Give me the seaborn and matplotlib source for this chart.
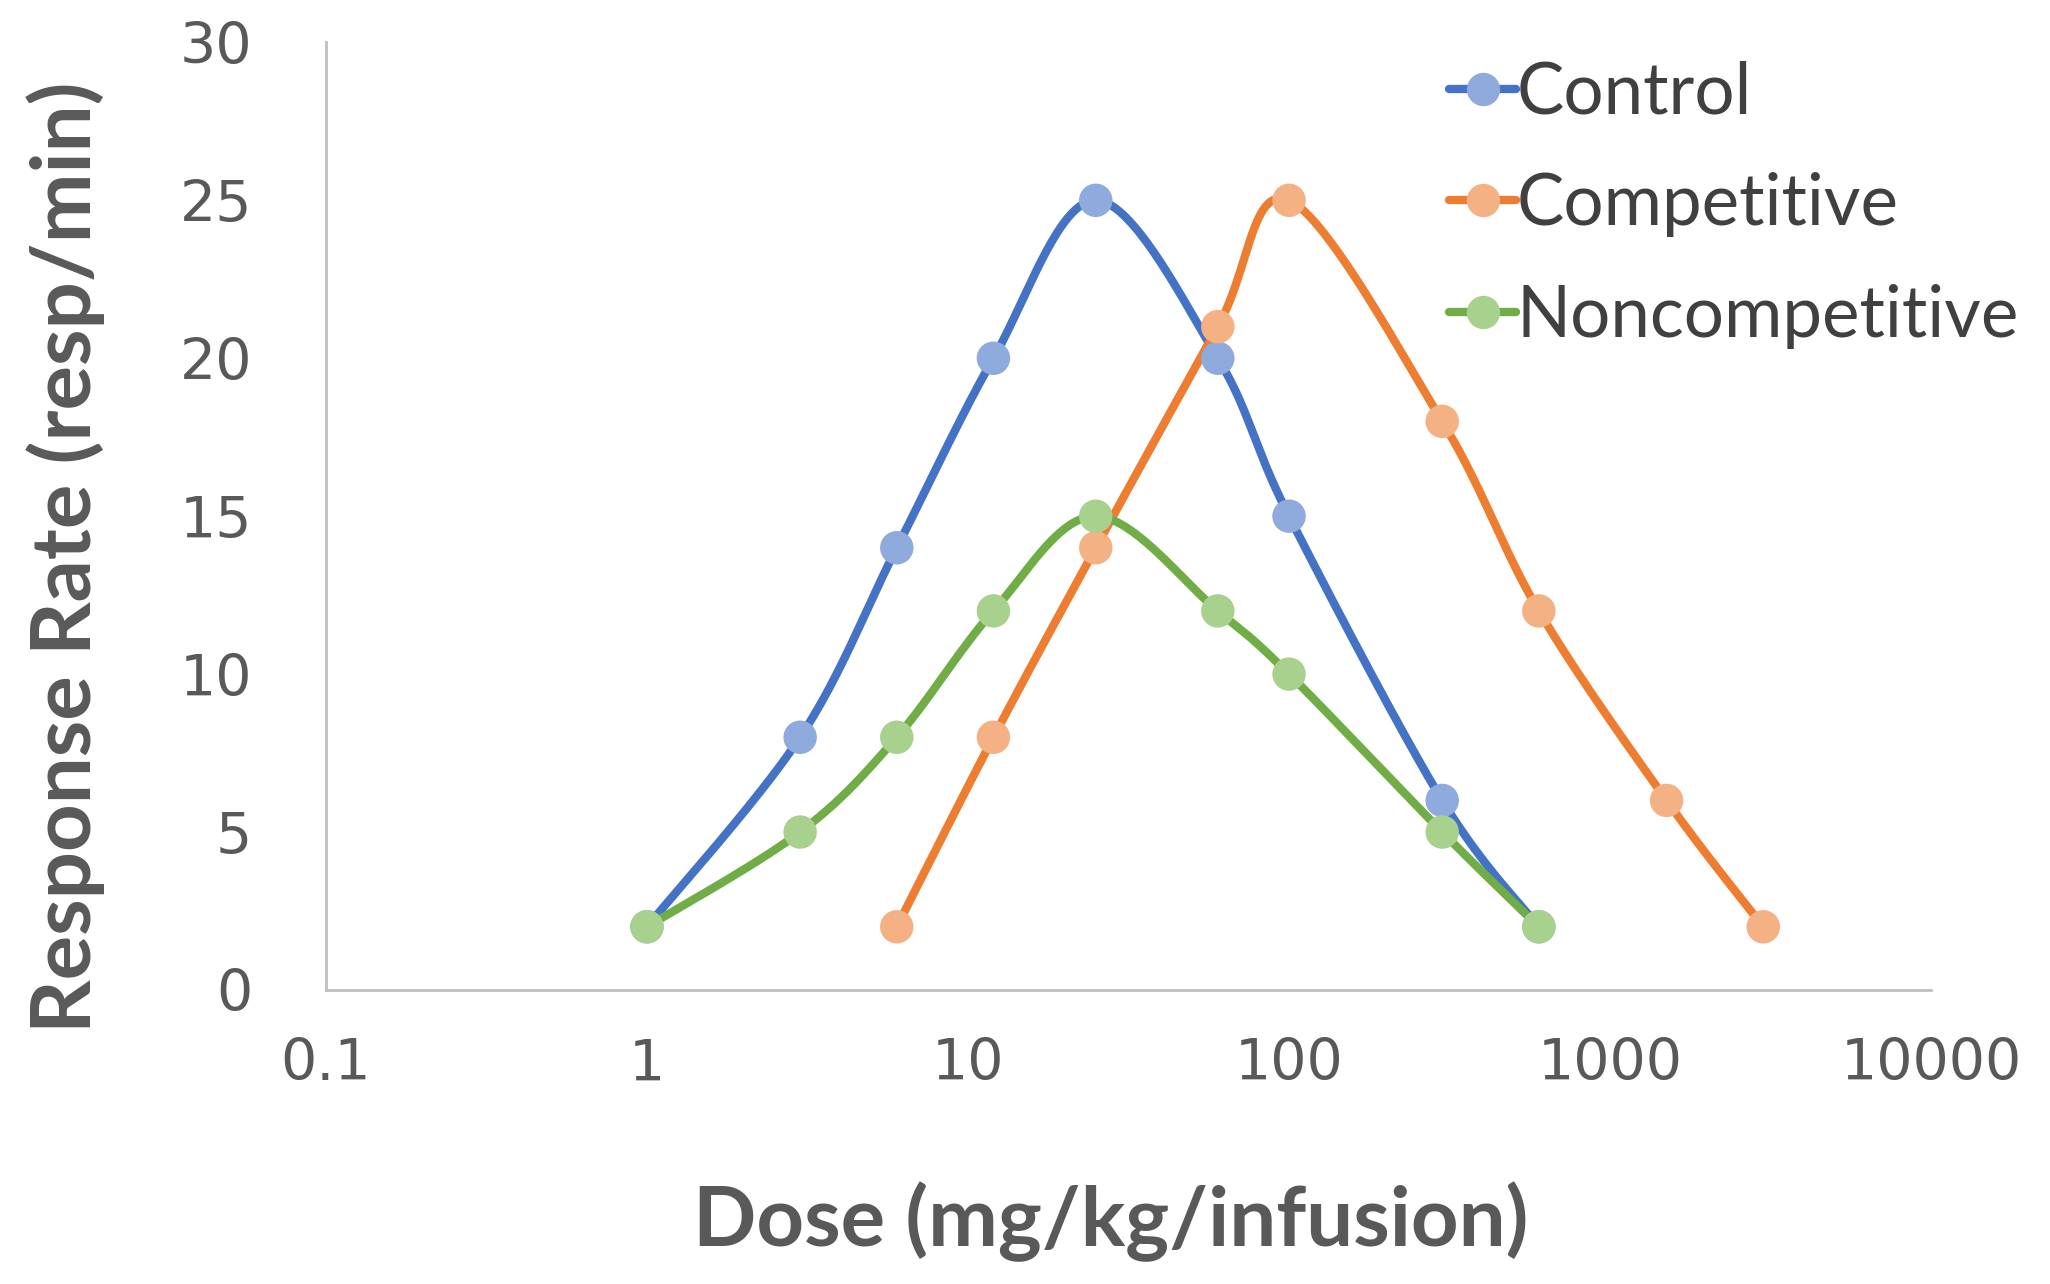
import numpy as np
import pandas as pd
import matplotlib
matplotlib.use("Agg")
import matplotlib.pyplot as plt
from matplotlib.lines import Line2D
from matplotlib.ticker import LogLocator, MultipleLocator, FuncFormatter
import seaborn as sns

# Data
control_dose = [1, 3, 6, 12, 25, 60, 100, 300, 600]
control_rate = [2, 8, 14, 20, 25, 20, 15, 6, 2]

competitive_dose = [6, 12, 25, 60, 100, 300, 600, 1500, 3000]
competitive_rate = [2, 8, 14, 21, 25, 18, 12, 6, 2]

noncompetitive_dose = [1, 3, 6, 12, 25, 60, 100, 300, 600]
noncompetitive_rate = [2, 5, 8, 12, 15, 12, 10, 5, 2]

series_names = ["Control", "Competitive", "Noncompetitive"]
line_colors = ["#4472C4", "#ED7D31", "#70AD47"]
marker_colors = ["#8FAADC", "#F4B183", "#A9D18E"]


def smooth_curve(xs, ys, n=40):
    # Excel-like smoothed line: Catmull-Rom style Bezier in (log10 x, y)
    lx = np.log10(np.asarray(xs, dtype=float))
    y = np.asarray(ys, dtype=float)
    pts = np.column_stack([lx, y])
    out = []
    for i in range(len(pts) - 1):
        p0 = pts[i - 1] if i > 0 else pts[i]
        p1 = pts[i]
        p2 = pts[i + 1]
        p3 = pts[i + 2] if i + 2 < len(pts) else pts[i + 1]
        c1 = p1 + (p2 - p0) / 6.0
        c2 = p2 - (p3 - p1) / 6.0
        t = np.linspace(0, 1, n)[:, None]
        seg = ((1 - t) ** 3) * p1 + 3 * ((1 - t) ** 2) * t * c1 + 3 * (1 - t) * t ** 2 * c2 + t ** 3 * p2
        out.append(seg if i == 0 else seg[1:])
    seg = np.vstack(out)
    return 10 ** seg[:, 0], seg[:, 1]


points = pd.concat([
    pd.DataFrame({"dose": control_dose, "rate": control_rate, "series": "Control"}),
    pd.DataFrame({"dose": competitive_dose, "rate": competitive_rate, "series": "Competitive"}),
    pd.DataFrame({"dose": noncompetitive_dose, "rate": noncompetitive_rate, "series": "Noncompetitive"}),
], ignore_index=True)

curves = []
for name, xs, ys in [("Control", control_dose, control_rate),
                     ("Competitive", competitive_dose, competitive_rate),
                     ("Noncompetitive", noncompetitive_dose, noncompetitive_rate)]:
    cx, cy = smooth_curve(xs, ys)
    curves.append(pd.DataFrame({"dose": cx, "rate": cy, "series": name}))
curves = pd.concat(curves, ignore_index=True)

sns.set_style("white")
plt.rcParams["font.family"] = ["Lato", "DejaVu Sans"]

fig = plt.figure(figsize=(20.5, 12.84), dpi=100)
ax = fig.add_axes([0.159, 0.229, 0.783, 0.738])

line_pal = dict(zip(series_names, line_colors))
mark_pal = dict(zip(series_names, marker_colors))

# smoothed lines
for name in series_names:
    d = curves[curves["series"] == name]
    sns.lineplot(data=d, x="dose", y="rate", sort=False, estimator=None,
                 color=line_pal[name], linewidth=6, ax=ax)
# data markers
for name in series_names:
    d = points[points["series"] == name]
    sns.scatterplot(data=d, x="dose", y="rate", color=mark_pal[name],
                    s=580, edgecolor="none", ax=ax, zorder=3)

ax.set_xscale("log")
ax.set_xlim(0.1, 10000)
ax.set_ylim(0, 30)

ax.xaxis.set_major_locator(LogLocator(base=10, numticks=10))
ax.xaxis.set_minor_locator(LogLocator(base=10, subs=np.arange(2, 10), numticks=20))
ax.xaxis.set_major_formatter(FuncFormatter(lambda v, p: f"{v:g}"))
ax.yaxis.set_major_locator(MultipleLocator(5))
ax.yaxis.set_minor_locator(MultipleLocator(1))

for s in ["top", "right"]:
    ax.spines[s].set_visible(False)
for s in ["left", "bottom"]:
    ax.spines[s].set_color("#BFBFBF")
    ax.spines[s].set_linewidth(2)

ax.tick_params(axis="both", which="both", direction="out", color="#BFBFBF", width=1.5)
ax.tick_params(axis="both", which="major", length=15, labelsize=41, labelcolor="#595959")
ax.tick_params(axis="both", which="minor", length=11)
ax.tick_params(axis="x", which="major", pad=19)
ax.tick_params(axis="y", which="major", pad=38)
for lbl in ax.get_xticklabels() + ax.get_yticklabels():
    lbl.set_fontfamily("DejaVu Sans")

ax.set_xlabel("Dose (mg/kg/infusion)", fontsize=60, fontweight="bold", color="#595959")
ax.set_ylabel("Response Rate (resp/min)", fontsize=60, fontweight="bold", color="#595959")
ax.xaxis.set_label_coords(0.489, -0.245)
ax.xaxis.label.set_va("center")
ax.yaxis.set_label_coords(-0.1625, 0.457)
ax.yaxis.label.set_va("center")

handles = [Line2D([0], [0], color=lc, linewidth=6, marker="o", markersize=24,
                  markerfacecolor=mc, markeredgecolor="none")
           for lc, mc in zip(line_colors, marker_colors)]
ax.legend(handles, series_names, loc="upper left", bbox_to_anchor=(1449 / 2050, 0.953),
          bbox_transform=fig.transFigure, frameon=False, fontsize=51,
          labelcolor="#404040", handlelength=0.95, handletextpad=0.0,
          labelspacing=0.66, borderpad=0, borderaxespad=0)

fig.savefig("out.png", dpi=100)
